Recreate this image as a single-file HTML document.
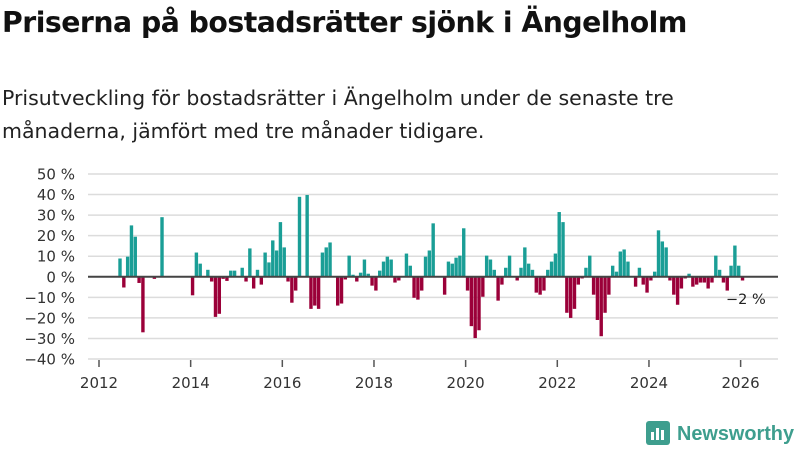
<!DOCTYPE html>
<html><head><meta charset="utf-8"><style>
body{margin:0;width:800px;height:450px;background:#fff;font-family:"Liberation Sans","DejaVu Sans",sans-serif;overflow:hidden;position:relative}
#t{position:absolute;left:2px;top:6px;font-size:28.3px;font-weight:bold;color:#111;margin:0;font-family:"DejaVu Sans","Liberation Sans",sans-serif;letter-spacing:-0.5px;white-space:nowrap}
#s{position:absolute;left:2px;top:82px;font-size:20.5px;line-height:33px;color:#222;font-family:"DejaVu Sans","Liberation Sans",sans-serif;width:790px}
svg{position:absolute;left:0;top:0}
</style></head><body>
<h1 id="t">Priserna på bostadsrätter sjönk i Ängelholm</h1>
<div id="s">Prisutveckling för bostadsrätter i Ängelholm under de senaste tre månaderna, jämfört med tre månader tidigare.</div>
<svg id="c" width="800" height="450"></svg>
<script>
const startYear=2012, startMonth=5; // June 2012
const values=[8.9,-5.2,9.8,25,19.5,-3,-27,0,0,-1,0,29,0,0,0,0,0,0,0,-9,11.8,6.4,0,3.4,-2.3,-19.5,-18,-1,-2,3,3,0,4.4,-2.3,13.8,-5.7,3.4,-3.8,11.8,7,17.7,12.8,26.6,14.3,-2.3,-12.6,-6.7,38.9,0,39.8,-15.6,-14,-15.6,11.8,14.3,16.7,0,-14,-13,-1.3,10.3,1,-2.3,2,8.4,1.5,-4.3,-6.7,3,7.4,9.8,8.4,-2.8,-1.8,0,11.3,5.4,-10.2,-11.1,-6.7,9.8,12.8,26,0,0,-8.7,7.4,6.4,9.3,10.3,23.6,-6.7,-24,-29.8,-26,-9.7,10.3,8.4,3.4,-11.6,-3.8,4.4,10.3,0,-1.8,4.4,14.3,6.4,3.4,-7.7,-8.7,-6.7,3.4,7.4,11.3,31.5,26.6,-17.5,-20,-15.6,-3.8,-0.8,4.4,10.3,-8.7,-21,-28.9,-17.5,-8.7,5.4,2.5,12.3,13.3,7.4,0,-4.8,4.4,-3.8,-7.7,-1.8,2.5,22.6,17.2,14.3,-1.8,-8.7,-13.6,-5.7,-0.8,1.5,-4.8,-3.8,-2.8,-2.8,-5.7,-2.8,10.3,3.4,-2.8,-6.7,5.4,15.2,5.4,-1.8];
const yTicks=[50,40,30,20,10,0,-10,-20,-30,-40];
const xTicks=[2012,2014,2016,2018,2020,2022,2024,2026];
const lastLabel="−2 %";
const NS="http://www.w3.org/2000/svg";
const svg=document.getElementById('c');
const x=t=>99+(t-2012)*45.83;
const y=v=>276.8-v*2.056;
function mk(tag,at,parent){const e=document.createElementNS(NS,tag);for(const k in at)e.setAttribute(k,at[k]);(parent||svg).appendChild(e);return e;}
yTicks.forEach(v=>{
  const g=mk('line',{x1:88,x2:778,y1:y(v),y2:y(v),stroke:'#dcdcdc','stroke-width':1.5});
  
  
  const t=mk('text',{x:75,y:y(v)+5.5,'text-anchor':'end','font-size':15,fill:'#333','font-family':'DejaVu Sans, sans-serif'});
  t.textContent=(v<0?'−'+(-v):v)+' %';
  
  
});
xTicks.forEach(yr=>{
  const l=mk('line',{x1:x(yr),x2:x(yr),y1:360,y2:367,stroke:'#555','stroke-width':1.5});
  
  
  const t=mk('text',{x:x(yr),y:388,'text-anchor':'middle','font-size':15,fill:'#333','font-family':'DejaVu Sans, sans-serif'});
  t.textContent=yr;
  
  
});
values.forEach((v,i)=>{
  if(v===0)return;
  const m=startMonth+i, t=startYear+(m+0.5)/12;
  const cx=x(t);
  const r=mk('rect',{x:cx-1.7,width:3.4,y:Math.min(y(v),y(0)),height:Math.abs(y(v)-y(0)),fill:v>0?'#1a9e96':'#9b0039'});
  
  
});
const z=mk('line',{x1:88,x2:778,y1:y(0),y2:y(0),stroke:'#444','stroke-width':2});


const lt=mk('text',{x:726,y:304,'font-size':14.5,fill:'#222','font-family':'DejaVu Sans, sans-serif'});
lt.textContent=lastLabel;


</script>
<svg width="800" height="450">
<rect x="646" y="421" width="24" height="24" rx="3" fill="#3e9e8e"/>
<rect x="651" y="432" width="3" height="8" fill="#fff"/><rect x="656" y="428" width="3" height="12" fill="#fff"/><rect x="661" y="430" width="3" height="10" fill="#fff"/>
<text x="677" y="440" font-size="20" font-weight="bold" fill="#3e9e8e" font-family="Liberation Sans, sans-serif" textLength="117" lengthAdjust="spacingAndGlyphs">Newsworthy</text>
</svg>
</body></html>
